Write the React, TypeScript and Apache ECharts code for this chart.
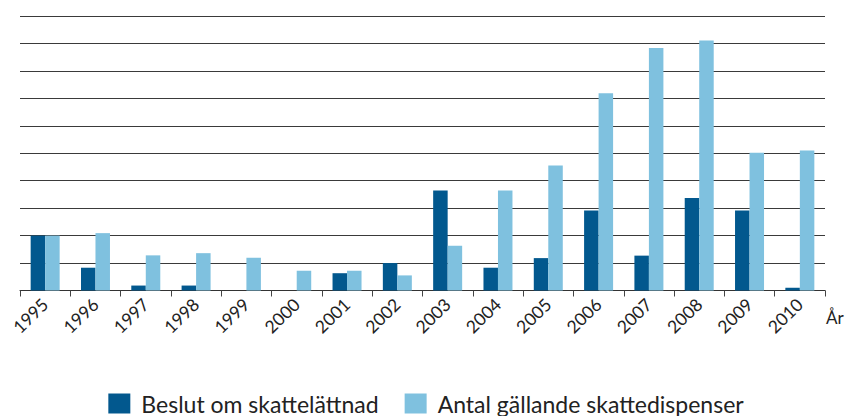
import React, { useEffect, useRef } from "react";
import * as echarts from "echarts";

const years = ["1995","1996","1997","1998","1999","2000","2001","2002","2003","2004","2005","2006","2007","2008","2009","2010"];
const beslut = [2.0, 0.83, 0.18, 0.18, 0, 0, 0.63, 1.0, 3.64, 0.83, 1.18, 2.91, 1.27, 3.37, 2.91, 0.1];
const dispenser = [2.0, 2.09, 1.28, 1.36, 1.19, 0.72, 0.72, 0.55, 1.63, 3.64, 4.55, 7.19, 8.83, 9.11, 5.02, 5.1];
const seriesNames = ["Beslut om skattelättnad", "Antal gällande skattedispenser"];
const axisName = "År";

export default function App() {
  const ref = useRef<HTMLDivElement>(null);
  useEffect(() => {
    if (!ref.current) return;
    const chart = echarts.init(ref.current, undefined, { renderer: "svg" });
    const font = "Lato, 'Open Sans', sans-serif";
    chart.setOption({
      animation: false,
      textStyle: { fontFamily: font },
      grid: { left: 20, right: 27, top: 16, bottom: 125.5 },
      legend: {
        data: seriesNames,
        bottom: -4,
        left: "center",
        itemWidth: 22,
        itemHeight: 20,
        itemGap: 26,
        textStyle: { fontSize: 23, color: "#222", fontFamily: font, padding: [0, 0, 0, 6] },
        icon: "rect",
      },
      graphic: [
        {
          type: "text",
          left: 826,
          top: 309,
          style: { text: axisName, fontSize: 17, fill: "#222", fontFamily: font },
        },
      ],
      xAxis: {
        type: "category",
        data: years,
        boundaryGap: true,
        axisLine: { lineStyle: { color: "#333", width: 1 } },
        axisTick: { show: true, length: 6, lineStyle: { color: "#444" } },
        axisLabel: { rotate: 44, fontSize: 17.5, color: "#222", margin: 11, fontFamily: font },
      },
      yAxis: {
        type: "value",
        min: 0,
        max: 10,
        interval: 1,
        axisLabel: { show: false },
        axisLine: { show: false },
        axisTick: { show: false },
        splitLine: { lineStyle: { color: "#3a3a3a", width: 1 } },
      },
      series: [
        {
          name: seriesNames[0],
          type: "bar",
          data: beslut,
          barWidth: 14.5,
          barGap: "0%",
          itemStyle: { color: "#02588E" },
        },
        {
          name: seriesNames[1],
          type: "bar",
          data: dispenser,
          barWidth: 14.5,
          itemStyle: { color: "#7FC1DF" },
        },
      ],
    });
    return () => chart.dispose();
  }, []);
  return <div ref={ref} style={{ width: 852, height: 416, position: "absolute", left: 0, top: 0 }} />;
}
